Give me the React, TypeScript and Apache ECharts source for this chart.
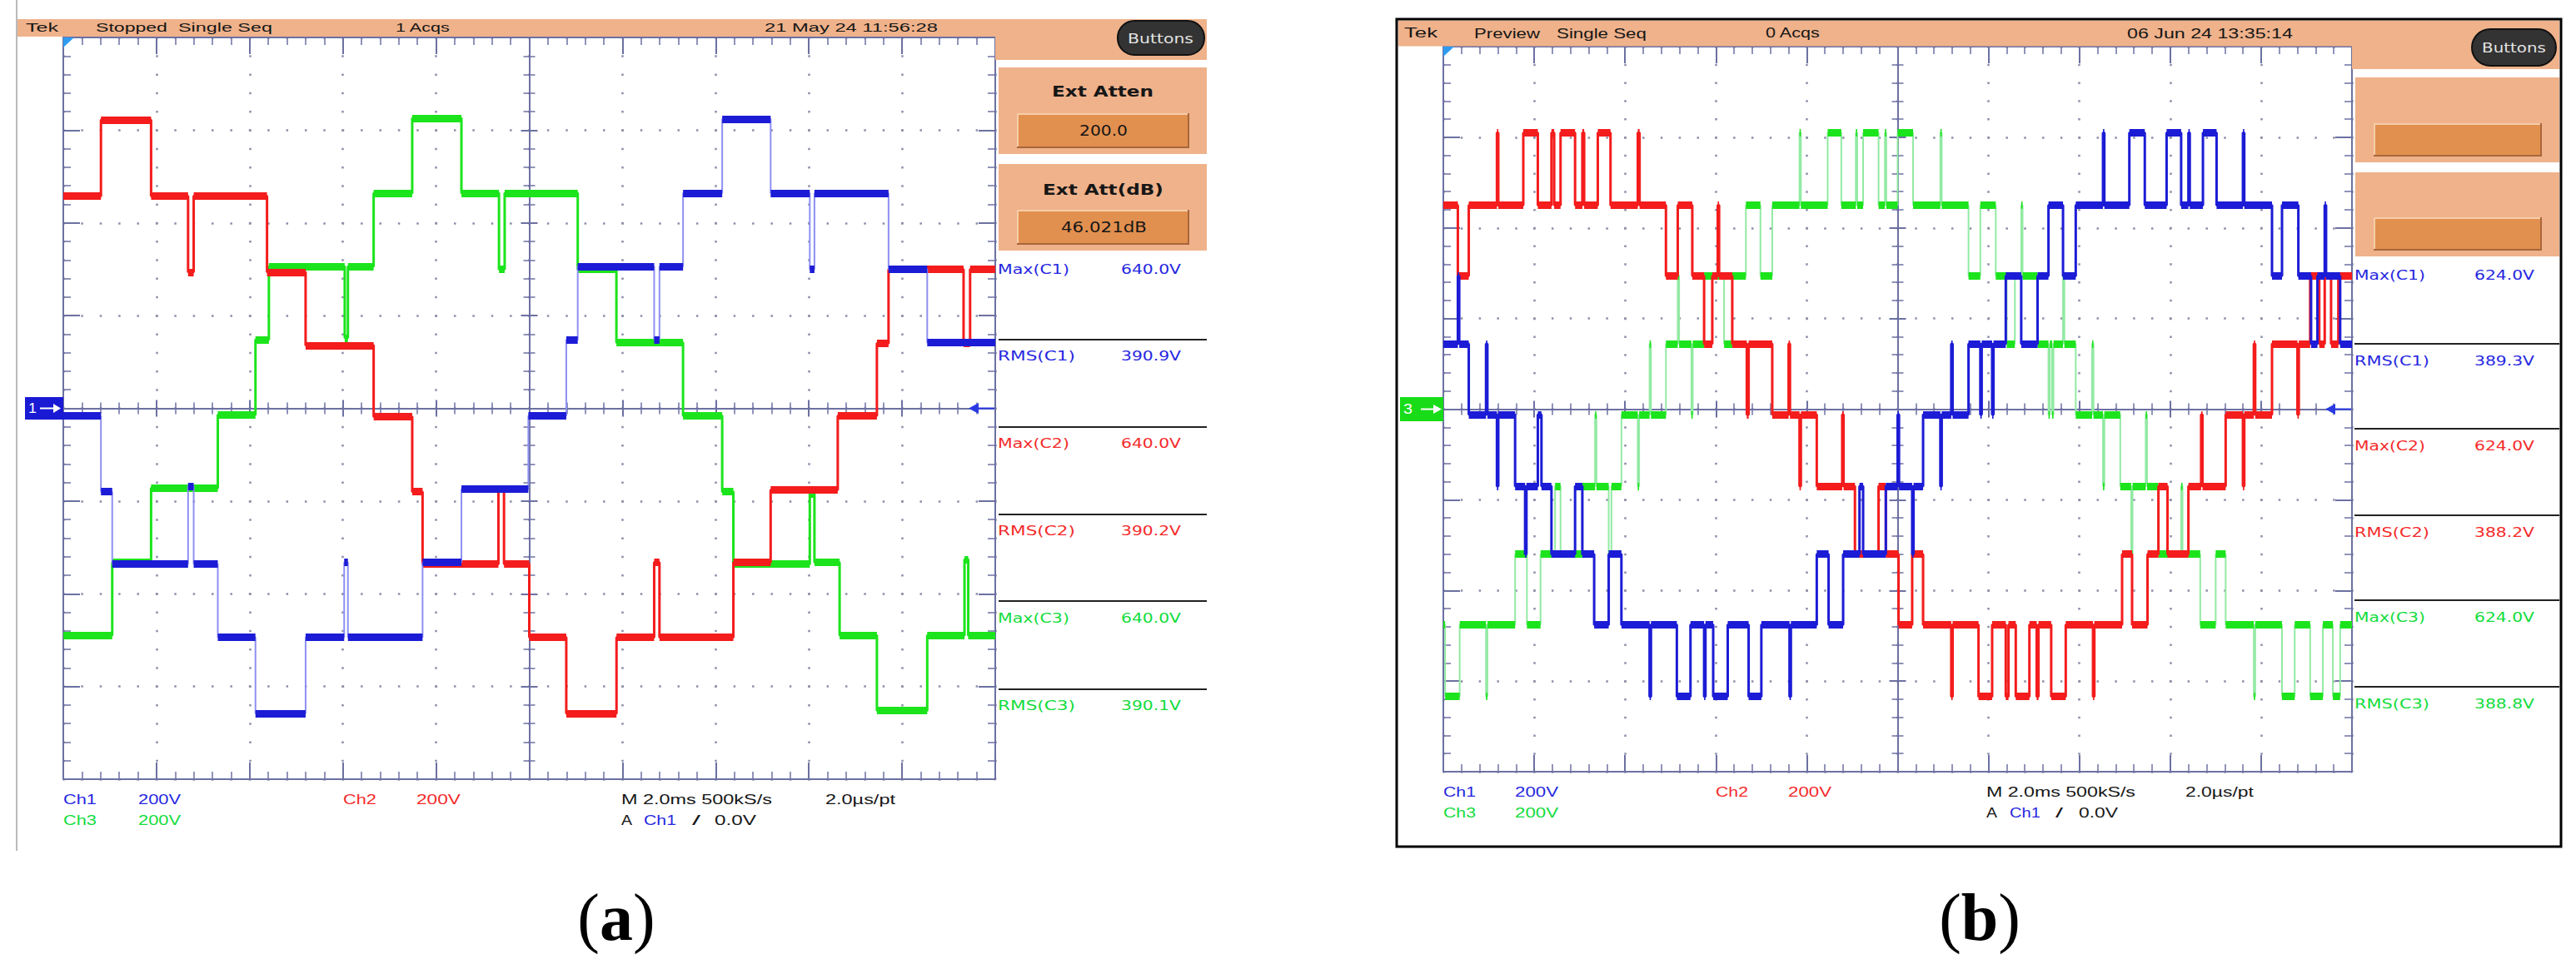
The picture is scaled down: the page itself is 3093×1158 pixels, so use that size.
import React, { useEffect, useRef } from 'react';
import * as echarts from 'echarts';

const W = 3093;
const H = 1158;
const END = 10;

// Waveform segments: [start time (div), level (div)] – each lasts until the next start.
const aRed = [[0,2.29],[0.404,3.11],[0.942,2.29],[1.339,1.47],[1.399,2.29],[2.186,1.47],[2.6,0.68],[3.33,-0.09],[3.744,-0.9],[3.855,-1.68],[4.669,-0.87],[4.729,-1.68],[5.0,-2.47],[5.397,-3.29],[5.936,-2.47],[6.34,-1.66],[6.397,-2.47],[7.19,-1.66],[7.59,-0.88],[8.31,-0.08],[8.73,0.7],[8.855,1.5],[9.66,0.7],[9.73,1.5]];
const aGreen = [[0,-2.45],[0.525,-1.66],[0.942,-0.86],[1.658,-0.07],[2.062,0.74],[2.206,1.53],[3.02,0.76],[3.054,1.53],[3.33,2.32],[3.744,3.13],[4.272,2.32],[4.675,1.5],[4.736,2.32],[5.52,1.5],[5.935,0.71],[6.65,-0.08],[7.07,-0.9],[7.19,-1.68],[8.01,-0.92],[8.06,-1.66],[8.33,-2.45],[8.73,-3.26],[9.27,-2.45],[9.67,-1.63],[9.71,-2.45]];
const aBlue = [[0,-0.08],[0.404,-0.9],[0.525,-1.68],[1.339,-0.84],[1.399,-1.68],[1.658,-2.47],[2.062,-3.29],[2.6,-2.47],[3.014,-1.66],[3.054,-2.47],[3.855,-1.66],[4.272,-0.87],[4.99,-0.08],[5.397,0.74],[5.52,1.53],[6.34,0.74],[6.397,1.53],[6.65,2.32],[7.07,3.12],[7.59,2.32],[8.01,1.5],[8.06,2.32],[8.855,1.5],[9.27,0.71]];

const bRed = [[0,2.25],[0.16,1.47],[0.28,2.25],[0.59,3.05],[0.605,2.25],[0.88,3.05],[1.04,2.25],[1.19,3.05],[1.22,2.25],[1.29,3.05],[1.45,2.25],[1.53,3.05],[1.55,2.25],[1.7,3.05],[1.84,2.25],[2.14,3.05],[2.16,2.25],[2.45,1.47],[2.58,2.25],[2.74,1.47],[2.87,0.72],[2.96,1.47],[3.02,2.25],[3.035,1.47],[3.18,0.72],[3.34,-0.06],[3.36,0.72],[3.62,-0.06],[3.8,0.72],[3.815,-0.06],[3.92,-0.85],[3.935,-0.06],[4.11,-0.85],[4.39,-0.06],[4.405,-0.85],[4.53,-1.6],[4.79,-0.85],[4.87,-1.6],[5.01,-2.38],[5.16,-1.6],[5.28,-2.38],[5.59,-3.17],[5.605,-2.38],[5.89,-3.17],[6.04,-2.38],[6.19,-3.17],[6.22,-2.38],[6.3,-3.17],[6.45,-2.38],[6.53,-3.17],[6.55,-2.38],[6.69,-3.17],[6.85,-2.38],[7.15,-3.17],[7.165,-2.38],[7.47,-1.6],[7.58,-2.38],[7.75,-1.6],[7.87,-0.85],[7.97,-1.6],[8.2,-0.85],[8.34,-0.06],[8.355,-0.85],[8.61,-0.06],[8.8,-0.85],[8.815,-0.06],[8.92,0.72],[8.935,-0.06],[9.12,0.72],[9.4,-0.06],[9.415,0.72],[9.54,1.47],[9.64,0.72],[9.7,1.47],[9.77,0.72],[9.85,1.47]];
const bBlue = [[0,0.72],[0.16,1.47],[0.175,0.72],[0.28,-0.06],[0.47,0.72],[0.485,-0.06],[0.59,-0.85],[0.605,-0.06],[0.79,-0.85],[0.9,-1.6],[0.915,-0.85],[1.04,-0.06],[1.08,-0.85],[1.19,-1.6],[1.45,-0.85],[1.53,-1.6],[1.66,-2.38],[1.82,-1.6],[1.96,-2.38],[2.27,-3.17],[2.285,-2.38],[2.57,-3.17],[2.72,-2.38],[2.87,-3.17],[2.885,-2.38],[2.97,-3.17],[3.13,-2.38],[3.36,-3.17],[3.5,-2.38],[3.81,-3.17],[3.825,-2.38],[4.11,-1.6],[4.24,-2.38],[4.4,-1.6],[4.58,-0.85],[4.62,-1.6],[4.87,-0.85],[5.0,-0.06],[5.015,-0.85],[5.16,-1.6],[5.175,-0.85],[5.28,-0.06],[5.47,-0.85],[5.485,-0.06],[5.59,0.72],[5.605,-0.06],[5.78,0.72],[5.91,-0.06],[5.925,0.72],[6.04,-0.06],[6.055,0.72],[6.19,1.47],[6.36,0.72],[6.54,1.47],[6.66,2.25],[6.82,1.47],[6.96,2.25],[7.26,3.05],[7.275,2.25],[7.55,3.05],[7.72,2.25],[7.96,3.05],[8.12,2.25],[8.2,3.05],[8.215,2.25],[8.36,3.05],[8.51,2.25],[8.8,3.05],[8.815,2.25],[9.12,1.47],[9.23,2.25],[9.41,1.47],[9.55,0.72],[9.62,1.47],[9.7,2.25],[9.715,1.47],[9.87,0.72]];
const bGreen = [[0,-2.38],[0.02,-3.17],[0.18,-2.38],[0.47,-3.17],[0.485,-2.38],[0.79,-1.6],[0.92,-2.38],[1.07,-1.6],[1.23,-0.85],[1.29,-1.6],[1.53,-0.85],[1.67,-0.06],[1.685,-0.85],[1.82,-1.6],[1.85,-0.85],[1.96,-0.06],[2.14,-0.85],[2.155,-0.06],[2.27,0.72],[2.285,-0.06],[2.45,0.72],[2.58,1.47],[2.595,0.72],[2.73,-0.06],[2.745,0.72],[2.87,1.47],[3.09,0.72],[3.18,1.47],[3.33,2.25],[3.49,1.47],[3.62,2.25],[3.92,3.05],[3.935,2.25],[4.23,3.05],[4.38,2.25],[4.54,3.05],[4.555,2.25],[4.62,3.05],[4.79,2.25],[4.86,3.05],[4.875,2.25],[5.0,3.05],[5.17,2.25],[5.47,3.05],[5.485,2.25],[5.78,1.47],[5.91,2.25],[6.08,1.47],[6.2,0.72],[6.29,1.47],[6.36,2.25],[6.375,1.47],[6.54,0.72],[6.66,-0.06],[6.675,0.72],[6.7,-0.06],[6.715,0.72],[6.82,1.47],[6.835,0.72],[6.96,-0.06],[7.14,0.72],[7.155,-0.06],[7.26,-0.85],[7.275,-0.06],[7.45,-0.85],[7.57,-1.6],[7.585,-0.85],[7.73,-0.06],[7.745,-0.85],[7.87,-1.6],[8.12,-0.85],[8.135,-1.6],[8.33,-2.38],[8.5,-1.6],[8.61,-2.38],[8.92,-3.17],[8.935,-2.38],[9.23,-3.17],[9.37,-2.38],[9.54,-3.17],[9.68,-2.38],[9.79,-3.17],[9.87,-2.38]];

// Texts
const measLabels = ['Max(C1)', 'RMS(C1)', 'Max(C2)', 'RMS(C2)', 'Max(C3)', 'RMS(C3)'];
const aMeasValues = ['640.0V', '390.9V', '640.0V', '390.2V', '640.0V', '390.1V'];
const bMeasValues = ['624.0V', '389.3V', '624.0V', '388.2V', '624.0V', '388.8V'];
const aHeader = ['Tek', 'Stopped', 'Single Seq', '1 Acqs', '21 May 24 11:56:28'];
const bHeader = ['Tek', 'Preview', 'Single Seq', '0 Acqs', '06 Jun 24 13:35:14'];

// Colours
const ORANGE = '#EFB28B';
const ORANGE_DARK = '#E2904F';
const GRAT = '#6c71a2';
const DOT = '#8d8ea8';
const RED = '#f41c1c';
const GREEN = '#1ce41c';
const BLUE = '#1c1cd6';
const BLUE_EDGE = '#8e90f2';
const GREEN_EDGE = '#92eaa3';
const C1 = '#2626e0';
const C2 = '#f42a2a';
const C3 = '#12dc3c';
const INK = '#161616';

// Layout
const PA = { gx: 76, gy: 45, gw: 1119, gh: 891 };
const PB = { gx: 1733, gy: 56, gw: 1091, gh: 871 };

let mctx: CanvasRenderingContext2D | null = null;
function textWidth(s: string, size: number, family: string, weight: string) {
  if (!mctx) mctx = document.createElement('canvas').getContext('2d');
  mctx!.font = `${weight} ${size}px "${family}"`;
  return mctx!.measureText(s).width;
}

function fit(s: string, left: number, right: number, cy: number, size: number, color: string, family = 'Liberation Sans', weight = 'normal') {
  const w = textWidth(s, size, family, weight);
  const k = w > 0 ? (right - left) / w : 1;
  return {
    type: 'text', x: left, y: cy, scaleX: k, z: 50, silent: true,
    style: { text: s, fill: color, fontSize: size, fontFamily: family, fontWeight: weight, align: 'left', verticalAlign: 'middle', textAlign: 'left', textVerticalAlign: 'middle' },
  };
}

function rect(x: number, y: number, w: number, h: number, fill: string, extra: any = {}) {
  return { type: 'rect', z: 5, silent: true, shape: { x, y, width: w, height: h, r: extra.r || 0 }, style: { fill, stroke: extra.stroke || null, lineWidth: extra.lw || 0 } };
}
function line(x1: number, y1: number, x2: number, y2: number, stroke: string, lw: number, z = 6) {
  return { type: 'line', z, silent: true, shape: { x1, y1, x2, y2 }, style: { stroke, lineWidth: lw } };
}
function poly(points: number[][], fill: string, z = 60) {
  return { type: 'polygon', z, silent: true, shape: { points }, style: { fill } };
}
function inputBar(x: number, y: number, w: number, h: number) {
  return [
    rect(x, y, w, h, ORANGE_DARK),
    line(x, y + 1, x + w, y + 1, '#f6cda9', 2),
    line(x + 1, y, x + 1, y + h, '#f6cda9', 2),
    line(x, y + h - 1, x + w, y + h - 1, '#a8663a', 2),
    line(x + w - 1, y, x + w - 1, y + h, '#a8663a', 2),
  ];
}

function stepPoints(segs: number[][]) {
  const pts: number[][] = [];
  segs.forEach((s, i) => {
    const t1 = i + 1 < segs.length ? segs[i + 1][0] : END;
    pts.push([s[0], s[1]], [t1, s[1]]);
  });
  return pts;
}
function levelLines(segs: number[][]) {
  return segs.map((s, i) => {
    const t1 = i + 1 < segs.length ? segs[i + 1][0] : END;
    return { coords: [[s[0], s[1]], [t1, s[1]]] };
  });
}
function wave(segs: number[][], ax: number, color: string, edge: string, edgeW: number, zBase: number) {
  return [
    { type: 'line', xAxisIndex: ax, yAxisIndex: ax, data: stepPoints(segs), showSymbol: false, symbol: 'none', silent: true, z: zBase, lineStyle: { color: edge, width: edgeW } },
    { type: 'lines', coordinateSystem: 'cartesian2d', xAxisIndex: ax, yAxisIndex: ax, polyline: false, silent: true, z: zBase + 1, data: levelLines(segs), lineStyle: { color, width: 9, opacity: 1, curveness: 0 } },
  ];
}

function borderAxis(dim: 'x' | 'y', gi: number, pos: string, split: boolean, period: number) {
  return {
    type: 'value', gridIndex: gi, position: pos,
    min: dim === 'x' ? 0 : -4, max: dim === 'x' ? 10 : 4, interval: 1,
    axisLine: { show: true, onZero: false, lineStyle: { color: GRAT, width: 2 } },
    axisTick: { show: true, inside: true, length: 20, lineStyle: { color: GRAT, width: 2 } },
    minorTick: { show: true, splitNumber: 5, length: 9, lineStyle: { color: GRAT, width: 1.5 } },
    axisLabel: { show: false },
    splitLine: { show: split, lineStyle: { color: DOT, width: 2.5, type: [2.5, period - 2.5], dashOffset: 1.25 } },
    minorSplitLine: { show: false },
  };
}
function centerAxis(dim: 'x' | 'y', gi: number, inside: boolean) {
  return {
    type: 'value', gridIndex: gi,
    min: dim === 'x' ? -5 : -4, max: dim === 'x' ? 5 : 4, interval: 1,
    axisLine: { show: true, onZero: true, lineStyle: { color: GRAT, width: 2 } },
    axisTick: { show: true, inside, length: 10, lineStyle: { color: GRAT, width: 2 } },
    minorTick: { show: true, splitNumber: 5, length: 7, lineStyle: { color: GRAT, width: 1.5 } },
    axisLabel: { show: false },
    splitLine: { show: false },
  };
}

function panelGrids(P: any) {
  const g = { left: P.gx, top: P.gy, width: P.gw, height: P.gh, show: false };
  return [g, { ...g }, { ...g }];
}
function panelX(g0: number, P: any) {
  return [borderAxis('x', g0, 'bottom', true, P.gh / 40), borderAxis('x', g0, 'top', false, 0), centerAxis('x', g0 + 1, false), centerAxis('x', g0 + 2, true)];
}
function panelY(g0: number, P: any) {
  return [borderAxis('y', g0, 'left', true, P.gw / 50), borderAxis('y', g0, 'right', false, 0), centerAxis('y', g0 + 1, false), centerAxis('y', g0 + 2, true)];
}

function rightMeasures(left: number, maxRight: number, rmsRight: number, valL: number, valR: number, ys: number[], vals: string[]) {
  const cols = [C1, C1, C2, C2, C3, C3];
  const out: any[] = [];
  measLabels.forEach((s, i) => {
    out.push(fit(s, left, i % 2 === 0 ? maxRight : rmsRight, ys[i], 16, cols[i], 'DejaVu Sans'));
    out.push(fit(vals[i], valL, valR, ys[i], 16, cols[i], 'DejaVu Sans'));
  });
  return out;
}

function caption(letter: string, x: number) {
  return { type: 'text', x, y: 1102, z: 50, silent: true, style: { text: `{p|(}{b|${letter}}{p|)}`, align: 'center', verticalAlign: 'middle', textAlign: 'center', textVerticalAlign: 'middle', rich: { p: { fontSize: 80, fontFamily: 'Liberation Serif', fill: '#000' }, b: { fontSize: 80, fontFamily: 'Liberation Serif', fontWeight: 'bold', fill: '#000' } } } };
}

function buildGraphics() {
  const g: any[] = [];
  // ---------- panel (a)
  g.push(line(20, 0, 20, 1022, '#a3a3a3', 1.5));
  g.push(rect(21, 23, 1174, 21, ORANGE));
  g.push(rect(1195, 23, 254, 49, ORANGE));
  g.push(rect(1199, 81, 250, 104, ORANGE));
  g.push(...inputBar(1221, 136, 207, 42));
  g.push(rect(1199, 197, 250, 104, ORANGE));
  g.push(...inputBar(1221, 252, 207, 42));
  g.push(rect(1342, 25, 104, 41, '#333333', { r: 20, stroke: '#111', lw: 2 }));
  [408, 513, 618, 722, 828].forEach((y) => g.push(line(1199, y, 1449, y, '#222', 2)));
  g.push(fit('Buttons', 1354, 1433, 46, 16, '#e4e4e4', 'DejaVu Sans'));
  g.push(fit('Ext Atten', 1263, 1385, 110, 18, INK, 'DejaVu Sans', 'bold'));
  g.push(fit('200.0', 1296, 1354, 157, 17, INK, 'DejaVu Sans'));
  g.push(fit('Ext Att(dB)', 1252, 1397, 228, 18, INK, 'DejaVu Sans', 'bold'));
  g.push(fit('46.021dB', 1274, 1377, 273, 17, INK, 'DejaVu Sans'));
  g.push(...rightMeasures(1198, 1284, 1291, 1346, 1418, [323, 427, 532, 637, 742, 847], aMeasValues));
  const aHx = [[31, 70], [115, 201], [214, 327], [475, 541], [918, 1126]];
  aHeader.forEach((s, i) => g.push(fit(s, aHx[i][0], aHx[i][1], 33, 15, INK)));
  g.push(fit('Ch1', 76, 116, 960, 17, C1));
  g.push(fit('200V', 166, 217, 960, 17, C1));
  g.push(fit('Ch2', 412, 452, 960, 17, C2));
  g.push(fit('200V', 500, 553, 960, 17, C2));
  g.push(fit('M 2.0ms 500kS/s', 746, 927, 960, 17, INK));
  g.push(fit('2.0\u00b5s/pt', 991, 1075, 960, 17, INK));
  g.push(fit('Ch3', 76, 116, 985, 17, C3));
  g.push(fit('200V', 166, 217, 985, 17, C3));
  g.push(fit('A', 746, 759, 985, 17, INK));
  g.push(fit('Ch1', 773, 812, 985, 17, C1));
  g.push(fit('/', 831, 841, 985, 17, INK));
  g.push(fit('0.0V', 858, 908, 985, 17, INK));
  // markers (a)
  g.push({ ...rect(30, 477, 46, 27, '#1a1ad4'), z: 60 });
  g.push({ ...fit('1', 34, 44, 490.5, 17, '#ffffff'), z: 62 });
  g.push(line(48, 490.5, 68, 490.5, '#ffffff', 2, 61));
  g.push(poly([[64, 485], [73, 490.5], [64, 496]], '#ffffff', 61));
  g.push(line(1170, 490.5, 1194, 490.5, '#2a3ae0', 2, 61));
  g.push(poly([[1163, 490.5], [1175, 484], [1175, 497]], '#2a3ae0'));
  g.push(poly([[76, 45], [89, 45], [76, 57]], '#2f9bf0'));
  g.push(caption('a', 740));

  // ---------- panel (b)
  g.push({ type: 'rect', z: 7, silent: true, shape: { x: 1677, y: 23, width: 1398, height: 994 }, style: { fill: 'none', stroke: '#000', lineWidth: 3 } });
  g.push(rect(1679, 24.5, 1145, 31, ORANGE));
  g.push(rect(2824, 24.5, 249, 58.5, ORANGE));
  g.push(rect(2828, 93, 245, 102, ORANGE));
  g.push(...inputBar(2850, 148, 202, 40));
  g.push(rect(2828, 207, 245, 101, ORANGE));
  g.push(...inputBar(2850, 261, 202, 40));
  g.push(rect(2968, 35, 101, 44, '#333333', { r: 22, stroke: '#111', lw: 2 }));
  [413, 515, 619, 721, 825].forEach((y) => g.push(line(2827, y, 3073, y, '#222', 2)));
  g.push(fit('Buttons', 2980, 3057, 57, 16, '#e4e4e4', 'DejaVu Sans'));
  g.push(...rightMeasures(2827, 2912, 2917, 2971, 3043, [330, 433, 535, 639, 741, 845], bMeasValues));
  const bHx = [[1686, 1726], [1770, 1849], [1869, 1977], [2120, 2186], [2554, 2753]];
  bHeader.forEach((s, i) => g.push(fit(s, bHx[i][0], bHx[i][1], 40, 16, INK)));
  g.push(fit('Ch1', 1733, 1772, 951, 17, C1));
  g.push(fit('200V', 1819, 1871, 951, 17, C1));
  g.push(fit('Ch2', 2060, 2099, 951, 17, C2));
  g.push(fit('200V', 2147, 2199, 951, 17, C2));
  g.push(fit('M 2.0ms 500kS/s', 2385, 2564, 951, 17, INK));
  g.push(fit('2.0\u00b5s/pt', 2624, 2706, 951, 17, INK));
  g.push(fit('Ch3', 1733, 1772, 976, 17, C3));
  g.push(fit('200V', 1819, 1871, 976, 17, C3));
  g.push(fit('A', 2385, 2398, 976, 17, INK));
  g.push(fit('Ch1', 2413, 2450, 976, 17, C1));
  g.push(fit('/', 2468, 2477, 976, 17, INK));
  g.push(fit('0.0V', 2496, 2543, 976, 17, INK));
  g.push({ ...rect(1681, 477, 52, 29, '#18dc18'), z: 60 });
  g.push({ ...fit('3', 1685, 1696, 491.5, 17, '#ffffff'), z: 62 });
  g.push(line(1706, 491.5, 1724, 491.5, '#ffffff', 2, 61));
  g.push(poly([[1721, 486], [1731, 491.5], [1721, 497]], '#ffffff', 61));
  g.push(line(2799, 491.5, 2823, 491.5, '#2a3ae0', 2, 61));
  g.push(poly([[2792, 491.5], [2804, 485], [2804, 498]], '#2a3ae0'));
  g.push(poly([[1733, 56], [1746, 56], [1733, 68]], '#2f9bf0'));
  g.push(caption('b', 2377));
  return g;
}

function buildOption() {
  return {
    animation: false,
    backgroundColor: '#ffffff',
    grid: [...panelGrids(PA), ...panelGrids(PB)],
    xAxis: [...panelX(0, PA), ...panelX(3, PB)],
    yAxis: [...panelY(0, PA), ...panelY(3, PB)],
    series: [
      ...wave(aGreen, 0, GREEN, GREEN, 3, 3),
      ...wave(aRed, 0, RED, RED, 3, 5),
      ...wave(aBlue, 0, BLUE, BLUE_EDGE, 2, 7),
      ...wave(bGreen, 4, GREEN, GREEN_EDGE, 2, 3),
      ...wave(bRed, 4, RED, RED, 3, 5),
      ...wave(bBlue, 4, BLUE, BLUE, 3, 7),
    ],
    graphic: { elements: buildGraphics() },
  };
}

export default function App() {
  const ref = useRef<HTMLDivElement>(null);
  useEffect(() => {
    const chart = echarts.init(ref.current!, null, { renderer: 'svg' });
    chart.setOption(buildOption() as any);
    return () => chart.dispose();
  }, []);
  return <div ref={ref} style={{ position: 'absolute', left: 0, top: 0, width: W, height: H, background: '#fff' }} />;
}
